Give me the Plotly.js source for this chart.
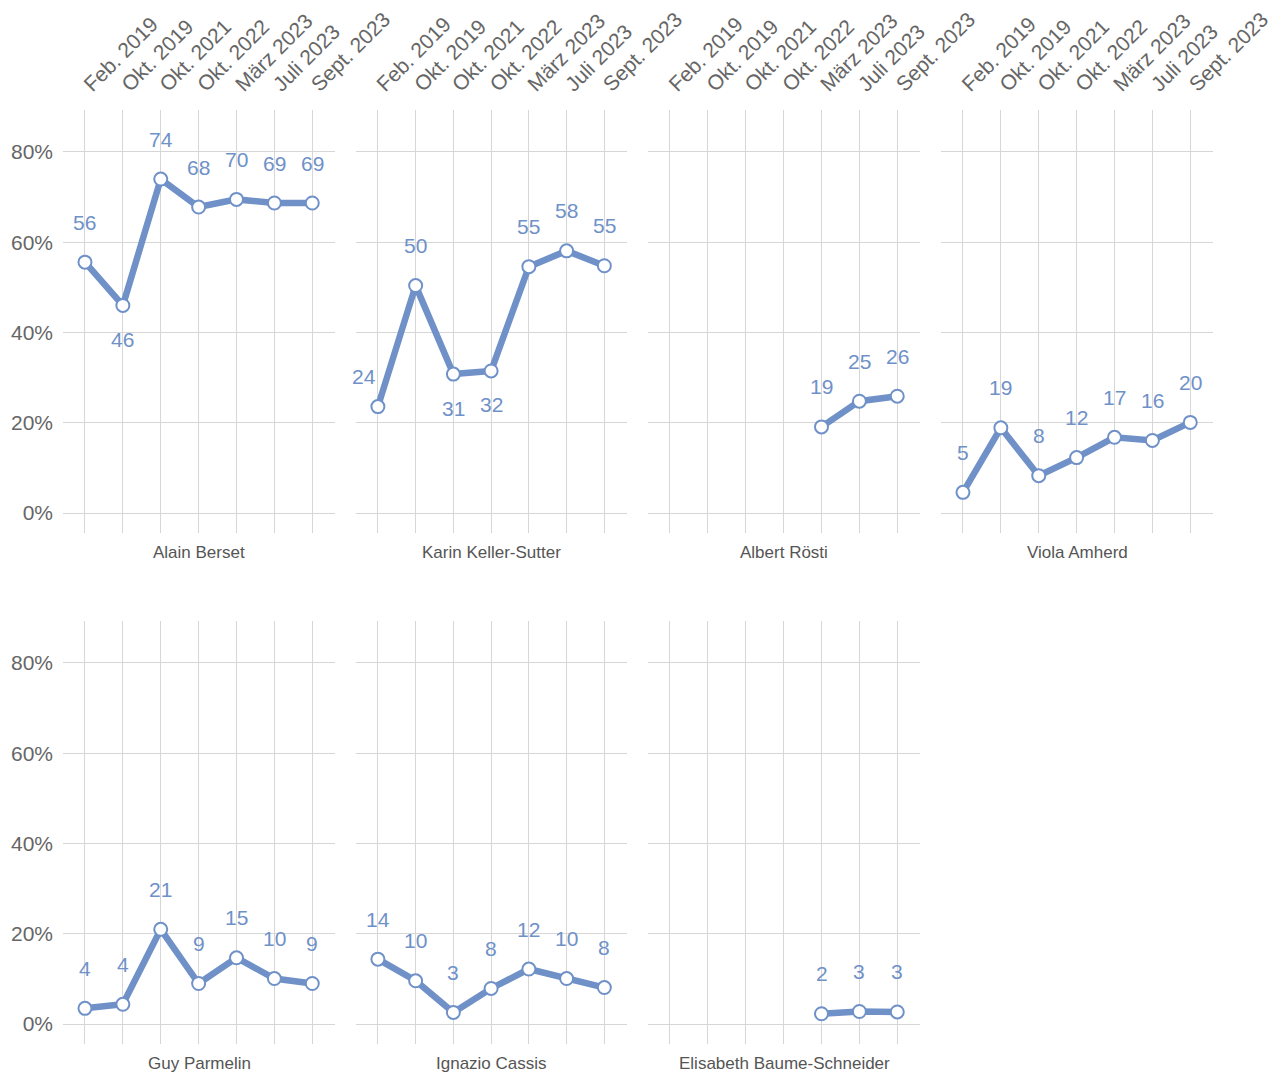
<!DOCTYPE html>
<html><head><meta charset="utf-8">
<script src="https://cdn.plot.ly/plotly-3.0.1.min.js"></script>
<style>html,body{margin:0;padding:0;background:#fff}</style>
</head><body><div id="chart" style="width:1274px;height:1075px"></div>
<script>
// ---- data ----
const dates = ["Feb. 2019","Okt. 2019","Okt. 2021","Okt. 2022","März 2023","Juli 2023","Sept. 2023"];
const names = ["Alain Berset","Karin Keller-Sutter","Albert Rösti","Viola Amherd","Guy Parmelin","Ignazio Cassis","Elisabeth Baume-Schneider"];
const berset = [55.6,46.0,74.0,67.8,69.5,68.7,68.7];
const kellerSutter = [23.6,50.4,30.8,31.5,54.6,58.1,54.8];
const roesti = [null,null,null,null,19.1,24.8,25.9];
const amherd = [4.6,18.9,8.3,12.3,16.8,16.1,20.1];
const parmelin = [3.5,4.4,21.0,9.0,14.7,10.1,9.0];
const cassis = [14.4,9.6,2.6,7.9,12.2,10.1,8.1];
const baumeSchneider = [null,null,null,null,2.3,2.8,2.7];
const yTicks = [0,20,40,60,80];
const yTickText = ["0%","20%","40%","60%","80%"];

const series = [berset,kellerSutter,roesti,amherd,parmelin,cassis,baumeSchneider];

// ---- label placement (style) ----
const labelBelow = {0:[1], 1:[2,3]};
const labelLeft = {1:[0]};

// ---- geometry ----
const W = 1274, H = 1075;
const colPx = [[63,335],[356,627],[648,920],[941,1213]];
const rowPx = [[110,533],[621,1044]];
const BLUE = "#6f91c8";
const FONT = "Liberation Sans, Arial, Helvetica, sans-serif";

const traces = [];
const layout = {
  width: W, height: H,
  margin: {l:0,r:0,t:0,b:0},
  paper_bgcolor: "#fff", plot_bgcolor: "#fff",
  showlegend: false,
  font: {family: FONT, color: "#666"},
  annotations: []
};

series.forEach((vals, i) => {
  const n = i + 1;
  const row = i < 4 ? 0 : 1;
  const col = i % 4;
  const xa = "x" + (n === 1 ? "" : n);
  const ya = "y" + (n === 1 ? "" : n);
  traces.push({
    type: "scatter", mode: "lines+markers",
    x: dates, y: vals, xaxis: xa, yaxis: ya,
    connectgaps: false, cliponaxis: false,
    line: {color: BLUE, width: 6.5},
    marker: {size: 13, color: "#fff", line: {color: BLUE, width: 2}},
    hoverinfo: "x+y"
  });
  const xd = [colPx[col][0]/W, colPx[col][1]/W];
  const yd = [1 - rowPx[row][1]/H, 1 - rowPx[row][0]/H];
  layout["xaxis" + (n === 1 ? "" : n)] = {
    domain: xd, anchor: ya, type: "category",
    categoryorder: "array", categoryarray: dates,
    range: [-0.58, 6.6], fixedrange: true,
    side: "top", showticklabels: row === 0, tickangle: -45,
    ticklabelstandoff: 9,
    tickfont: {size: 21, color: "#666", family: FONT},
    showgrid: true, gridcolor: "#d6d6d6", gridwidth: 1,
    zeroline: false, showline: false, ticks: "", automargin: false
  };
  layout["yaxis" + (n === 1 ? "" : n)] = {
    domain: yd, anchor: xa, range: [-4.4, 89.3], fixedrange: true,
    tickmode: "array", tickvals: yTicks, ticktext: yTickText,
    showticklabels: col === 0, ticklabelstandoff: 9,
    tickfont: {size: 21, color: "#666", family: FONT},
    showgrid: true, gridcolor: "#d6d6d6", gridwidth: 1,
    zeroline: false, showline: false, ticks: "", automargin: false
  };
  // panel name
  layout.annotations.push({
    xref: xa + " domain", x: 0.5, yref: "paper",
    y: 1 - (rowPx[row][1] + 19)/H, yanchor: "middle", xanchor: "center",
    text: names[i], showarrow: false,
    font: {size: 17, color: "#555", family: FONT}
  });
  // data labels
  vals.forEach((v, j) => {
    if (v === null) return;
    let ys = 40, xs = 0;
    if ((labelBelow[i] || []).includes(j)) ys = -34;
    if ((labelLeft[i] || []).includes(j)) { ys = 30; xs = -14; }
    layout.annotations.push({
      xref: xa, yref: ya, x: dates[j], y: v,
      text: String(Math.round(v)), showarrow: false,
      xanchor: "center", yanchor: "middle",
      xshift: xs, yshift: ys,
      font: {size: 21, color: BLUE, family: FONT}
    });
  });
});

Plotly.newPlot("chart", traces, layout, {displayModeBar: false, staticPlot: true});
</script>
</body></html>
